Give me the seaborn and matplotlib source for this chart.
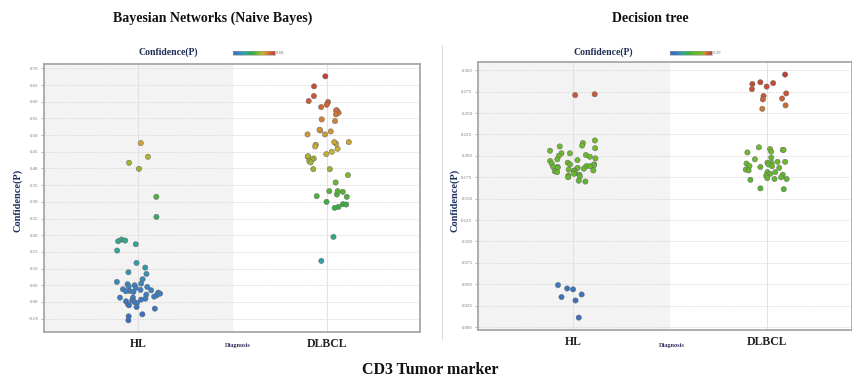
import numpy as np
import pandas as pd
import matplotlib
matplotlib.use("Agg")
import matplotlib.pyplot as plt
import seaborn as sns
from matplotlib.colors import LinearSegmentedColormap, Normalize
from matplotlib.colorbar import ColorbarBase
from matplotlib.lines import Line2D

# ---------------- data ----------------
categories = ["HL", "DLBCL"]

bn_hl = [0.476, 0.435, 0.417, 0.399, 0.315, 0.255, 0.187, 0.184, 0.182, 0.173,
         0.154, 0.117, 0.103, 0.089, 0.084, 0.068, 0.060, 0.055, 0.053, 0.050,
         0.047, 0.045, 0.042, 0.038, 0.036, 0.035, 0.033, 0.032, 0.030, 0.028,
         0.025, 0.022, 0.020, 0.016, 0.013, 0.013, 0.010, 0.007, 0.005, 0.002,
         0.000, -0.003, -0.007, -0.010, -0.015, -0.020, -0.037, -0.043, -0.055]
bn_dlbcl = [0.676, 0.646, 0.617, 0.599, 0.602, 0.591, 0.584, 0.574, 0.567, 0.574,
            0.562, 0.547, 0.542, 0.514, 0.511, 0.516, 0.502, 0.502, 0.471, 0.479,
            0.466, 0.474, 0.479, 0.459, 0.443, 0.450, 0.435, 0.437, 0.430, 0.427,
            0.422, 0.418, 0.398, 0.398, 0.380, 0.358, 0.332, 0.322, 0.317, 0.315,
            0.330, 0.332, 0.300, 0.293, 0.285, 0.282, 0.292, 0.195, 0.123]

dt_hl = [0.272, 0.271, 0.218, 0.215, 0.212, 0.211, 0.209, 0.206, 0.203, 0.203,
         0.201, 0.200, 0.199, 0.197, 0.196, 0.195, 0.194, 0.192, 0.191, 0.190,
         0.190, 0.189, 0.188, 0.188, 0.187, 0.187, 0.186, 0.186, 0.185, 0.184,
         0.183, 0.183, 0.182, 0.182, 0.181, 0.180, 0.179, 0.178, 0.177, 0.176,
         0.175, 0.171, 0.170, 0.049, 0.045, 0.044, 0.038, 0.035, 0.031, 0.011]
dt_dlbcl = [0.295, 0.286, 0.285, 0.284, 0.281, 0.278, 0.273, 0.270, 0.267, 0.266,
            0.259, 0.255, 0.210, 0.208, 0.207, 0.207, 0.205, 0.204, 0.198, 0.196,
            0.193, 0.193, 0.192, 0.192, 0.191, 0.190, 0.188, 0.188, 0.187, 0.186,
            0.184, 0.183, 0.181, 0.181, 0.179, 0.178, 0.177, 0.175, 0.174, 0.173,
            0.173, 0.172, 0.162, 0.161]

bn_ticks = [-0.05, 0.00, 0.05, 0.10, 0.15, 0.20, 0.25, 0.30, 0.35, 0.40,
            0.45, 0.50, 0.55, 0.60, 0.65, 0.70]
dt_ticks = [0.000, 0.025, 0.050, 0.075, 0.100, 0.125, 0.150, 0.175, 0.200,
            0.225, 0.250, 0.275, 0.300]

titles = ["Bayesian Networks (Naive Bayes)", "Decision tree"]
ylabel = "Confidence(P)"
xlabel = "Diagnosis"
suptitle = "CD3 Tumor marker"
legend_max = ["0.68", "0.29"]

# ---------------- style ----------------
sns.set_theme(style="white")
plt.rcParams["font.family"] = ["Liberation Serif", "DejaVu Serif"]

cmap_bn = LinearSegmentedColormap.from_list(
    "conf_bn",
    [(0.0, "#3a6cbf"), (0.12, "#3a80c4"), (0.28, "#2fa8a0"), (0.40, "#33a668"),
     (0.48, "#3cb040"), (0.56, "#66b62e"), (0.63, "#9ab62c"), (0.70, "#c6b232"),
     (0.80, "#d88a30"), (0.90, "#d05a35"), (1.0, "#c04038")])
cmap_dt = LinearSegmentedColormap.from_list(
    "conf_dt",
    [(0.0, "#3a6cbf"), (0.15, "#3a78c2"), (0.30, "#2fa8a0"), (0.45, "#3cb040"),
     (0.58, "#62b82c"), (0.76, "#78bc2a"), (0.82, "#c99a32"), (0.88, "#cf6535"),
     (1.0, "#c04038")])

fig = plt.figure(figsize=(8.53, 3.79), dpi=100)

W, H = 853, 379
def rect(x0, y0, x1, y1):
    return [x0 / W, 1 - y1 / H, (x1 - x0) / W, (y1 - y0) / H]

panels = [
    dict(hl=bn_hl, dl=bn_dlbcl, ticks=bn_ticks, fmt="{:.2f}", cmap=cmap_bn,
         rect=rect(44, 64, 420, 332), ylim=(-0.09, 0.713), xlim=(-0.5, 1.49),
         title_x=213, cb=(233, 275), lab_x=139, ylab_x=18, diag_x=238),
    dict(hl=dt_hl, dl=dt_dlbcl, ticks=dt_ticks, fmt="{:.3f}", cmap=cmap_dt,
         rect=rect(478, 62, 852, 330), ylim=(-0.0035, 0.3097), xlim=(-0.49, 1.44),
         title_x=650, cb=(670, 712), lab_x=573, ylab_x=455, diag_x=672),
]

for i, p in enumerate(panels):
    ax = fig.add_axes(p["rect"])
    df = pd.DataFrame({
        "Diagnosis": ["HL"] * len(p["hl"]) + ["DLBCL"] * len(p["dl"]),
        "Confidence": list(p["hl"]) + list(p["dl"]),
    })
    cmap = p["cmap"]
    lo, hi = df["Confidence"].min(), df["Confidence"].max()
    norm = Normalize(lo, hi)
    pal = {v: cmap(norm(v)) for v in df["Confidence"].unique()}
    ax.axvspan(-0.6, 0.5, color="#f3f3f3", zorder=0, lw=0)
    for t in p["ticks"]:
        ax.axhline(t, color="#dcdcdc", lw=0.6, ls=(0, (2, 1)), zorder=0.5)
    for xc in [0, 1]:
        ax.axvline(xc, color="#e2e2e2", lw=0.8, zorder=0.5)
    np.random.seed(3 + i)
    sns.stripplot(data=df, x="Diagnosis", y="Confidence", hue="Confidence",
                  order=categories, palette=pal,
                  jitter=0.12, size=3.8, linewidth=0.35, edgecolor="#666666",
                  legend=False, ax=ax, zorder=3)
    ax.set_xlim(*p["xlim"])
    ax.set_ylim(*p["ylim"])
    ax.set_yticks(p["ticks"])
    ax.set_yticklabels([p["fmt"].format(t) for t in p["ticks"]],
                       fontsize=3.5, color="#777777")
    ax.tick_params(axis="y", length=2, width=0.5, color="#999999", pad=2, left=True)
    ax.set_xticks([0, 1])
    ax.set_xticklabels(categories, fontsize=8.5, fontweight="bold", color="#222222")
    ax.tick_params(axis="x", length=0, pad=4)
    ax.set_xlabel("")
    ax.set_ylabel("")
    for s in ax.spines.values():
        s.set_color("#a8a8a8")
        s.set_linewidth(1.3)

    # titles and labels
    fig.text(p["title_x"] / W, 1 - 18 / H, titles[i], ha="center", va="center",
             fontsize=10, fontweight="bold", color="#111111")
    fig.text(p["ylab_x"] / W, 1 - 200 / H, ylabel, rotation=90, ha="center",
             va="center", fontsize=7.5, fontweight="bold", color="#1f3060")
    fig.text(p["diag_x"] / W, 1 - 345 / H, xlabel, ha="center", va="center",
             fontsize=4.5, fontweight="bold", color="#3a2a60")

    # colour legend
    fig.text(p["lab_x"] / W, 1 - 52 / H, ylabel, ha="left", va="center",
             fontsize=7, fontweight="bold", color="#1f2d55")
    cx0, cx1 = p["cb"]
    cax = fig.add_axes(rect(cx0, 50.5, cx1, 54.5))
    cb = ColorbarBase(cax, cmap=cmap, norm=norm, orientation="horizontal")
    cb.set_ticks([])
    cb.outline.set_edgecolor("#999999")
    cb.outline.set_linewidth(0.4)
    fig.text((cx1 + 1) / W, 1 - 52.5 / H, legend_max[i], ha="left", va="center",
             fontsize=3.5, color="#777777")

# divider line between the panels
fig.add_artist(Line2D([442 / W, 442 / W], [1 - 45 / H, 1 - 340 / H],
                      transform=fig.transFigure, color="#dddddd", lw=0.8))

fig.text(430 / W, 1 - 370 / H, suptitle, ha="center", va="center",
         fontsize=11.5, fontweight="bold", color="#111111")

fig.savefig("out.png", dpi=100, facecolor="white")
